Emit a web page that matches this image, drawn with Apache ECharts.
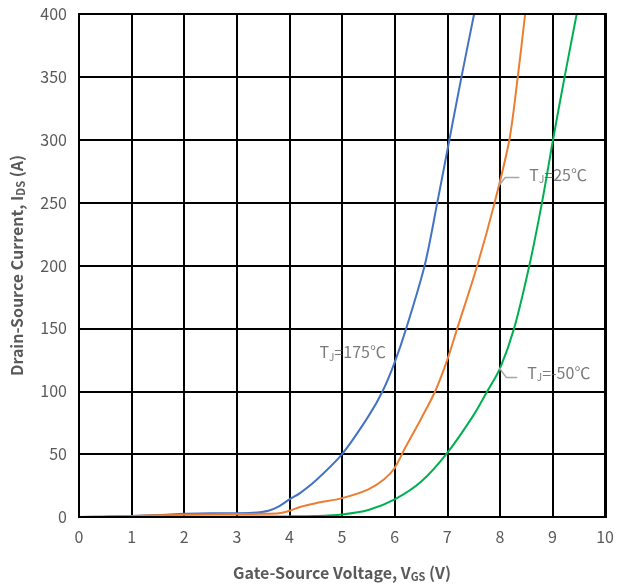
<!DOCTYPE html>
<html><head><meta charset="utf-8">
<script src="https://cdn.jsdelivr.net/npm/echarts@6/dist/echarts.min.js"></script>
<style>html,body{margin:0;padding:0;background:#fff}#c{width:617px;height:587px}</style>
</head><body><div id="c"></div>
<script>
const xTicks = [0,1,2,3,4,5,6,7,8,9,10];
const yTicks = [0,50,100,150,200,250,300,350,400];
const tj175X = [0,0.5,1,1.5,2,2.5,3,3.3,3.6,3.8,4,4.2,4.5,5,5.5,5.77,6,6.22,6.57,6.81,7.04,7.27,7.51];
const tj175Y = [0,0.3,0.8,1.5,2.5,3,3,3.3,5,8.5,14,19,29,50,80,100,123,150,200,250,300,350,400];
const tj25X = [0,1,2,3,3.5,3.8,4,4.2,4.5,5,5.5,5.8,6,6.2,6.5,6.77,7,7.19,7.57,7.9,8.18,8.34,8.48];
const tj25Y = [0,0.8,1.8,2.3,2.5,3,5,8,11,15,22,30,39,55,78,100,125,150,200,250,300,350,400];
const tjm50X = [0,1,2,3,4,4.5,5,5.5,6,6.5,7,7.5,7.76,8.0,8.27,8.56,8.8,9.01,9.23,9.46];
const tjm50Y = [0,0,0.2,0.3,0.5,0.8,2,5.5,14,28,51,81,100,118,150,200,250,300,350,400];
const seriesNames = ['TJ=175℃','TJ=25℃','TJ=-50℃'];
const labelTexts = [['J','=175℃'],['J','=25℃'],['J','=-50℃']];
const labelPos = [[4.57,131],[8.56,272],[8.52,114.5]];
const leader25 = [[7.97,263],[8.1,270],[8.37,270]];
const leaderM50 = [[7.99,118.5],[8.12,111],[8.33,111]];

const zip = (xs, ys) => xs.map((x,i)=>[x, ys[i]]);
const colors = ['#4472C4','#ED7D31','#00B050'];
const chart = echarts.init(document.getElementById('c'));
const curves = [zip(tj175X,tj175Y), zip(tj25X,tj25Y), zip(tjm50X,tjm50Y)];
const series = curves.map((d,i)=>({
  type:'line', name:seriesNames[i], data:d, smooth:0.3, showSymbol:false,
  lineStyle:{color:colors[i], width:2}, z:3, silent:true
}));
[leader25, leaderM50].forEach(d=>series.push({
  type:'line', data:d, showSymbol:false, lineStyle:{color:'#A6A6A6', width:1.5}, z:4, silent:true
}));
series.push({
  type:'scatter', symbolSize:0, z:5, silent:true,
  data: labelPos.map((p,i)=>({value:p, txt:labelTexts[i]})),
  label:{show:true, position:'right', distance:0,
    formatter: p => 'T{s|' + p.data.txt[0] + '}' + p.data.txt[1],
    color:'#595959', fontSize:16, fontFamily:'Noto Sans CJK SC',
    rich:{s:{fontSize:10, verticalAlign:'bottom', padding:[9,0,0,0], color:'#595959', fontFamily:'Noto Sans CJK SC'}}
  }
});
chart.setOption({
  animation:false,
  grid:{left:79, right:11, top:14, bottom:70},
  xAxis:{type:'value', min:0, max:10, interval:1,
    axisLine:{show:true, lineStyle:{color:'#000', width:2}},
    axisTick:{show:false},
    splitLine:{show:true, lineStyle:{color:'#000', width:2}},
    axisLabel:{color:'#595959', fontSize:16, margin:12, fontFamily:'Noto Sans CJK SC'},
    name:'Gate-Source Voltage, V{s|GS} (V)', nameLocation:'middle', nameGap:46,
    nameTextStyle:{color:'#595959', fontSize:16, fontWeight:'bold', fontFamily:'Noto Sans CJK SC',
      rich:{s:{fontSize:11, fontWeight:'bold', color:'#595959', verticalAlign:'bottom', padding:[8,0,0,0], fontFamily:'Noto Sans CJK SC'}}}
  },
  yAxis:{type:'value', min:0, max:400, interval:50,
    axisLine:{show:true, lineStyle:{color:'#000', width:2}},
    axisTick:{show:false},
    splitLine:{show:true, lineStyle:{color:'#000', width:2}},
    axisLabel:{color:'#595959', fontSize:16, margin:12, fontFamily:'Noto Sans CJK SC'},
    name:'Drain-Source Current, I{s|DS} (A)', nameLocation:'middle', nameGap:53,
    nameTextStyle:{color:'#595959', fontSize:16, fontWeight:'bold', fontFamily:'Noto Sans CJK SC',
      rich:{s:{fontSize:11, fontWeight:'bold', color:'#595959', verticalAlign:'bottom', padding:[8,0,0,0], fontFamily:'Noto Sans CJK SC'}}}
  },
  graphic:[{type:'rect', shape:{x:79,y:14,width:527,height:503}, style:{fill:'none', stroke:'#000', lineWidth:2}, z:10, silent:true}],
  series: series
});
</script></body></html>
